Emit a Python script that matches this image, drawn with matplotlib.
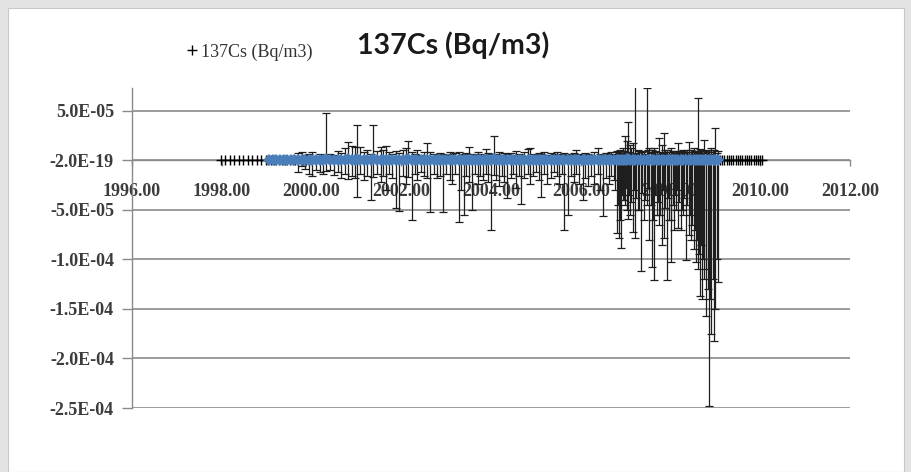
import numpy as np
import matplotlib.pyplot as plt
from matplotlib import font_manager
from matplotlib.patches import Rectangle

# pick a narrow bold sans for the title if one is around
_names = {f.name for f in font_manager.fontManager.ttflist}
TITLE_FONT = 'Liberation Sans Narrow' if 'Liberation Sans Narrow' in _names else 'Lato'
TICK_FONT = 'Liberation Serif'

# 137Cs series with error bars (values and errors in 1e-6 Bq/m3)
dates = [
    1999.05, 1999.14, 1999.22, 1999.30, 1999.38, 1999.46, 1999.54, 1999.62,
    1999.70, 1999.78, 1999.86, 1999.94, 2000.02, 2000.10, 2000.18, 2000.26,
    2000.33, 2000.42, 2000.50, 2000.58, 2000.66, 2000.74, 2000.82, 2000.90,
    2000.96, 2001.02, 2001.09, 2001.16, 2001.24, 2001.33, 2001.38, 2001.46,
    2001.54, 2001.60, 2001.65, 2001.72, 2001.80, 2001.88, 2001.96, 2002.04,
    2002.10, 2002.16, 2002.24, 2002.30, 2002.36, 2002.44, 2002.50, 2002.58,
    2002.65, 2002.72, 2002.80, 2002.86, 2002.92, 2003.00, 2003.08, 2003.14,
    2003.20, 2003.28, 2003.34, 2003.39, 2003.44, 2003.50, 2003.57, 2003.64,
    2003.70, 2003.76, 2003.82, 2003.88, 2003.94, 2003.99, 2004.06, 2004.12,
    2004.18, 2004.24, 2004.30, 2004.36, 2004.44, 2004.50, 2004.56, 2004.62,
    2004.67, 2004.74, 2004.82, 2004.88, 2004.94, 2005.00, 2005.06, 2005.11,
    2005.17, 2005.24, 2005.33, 2005.40, 2005.46, 2005.52, 2005.58, 2005.63,
    2005.71, 2005.78, 2005.84, 2005.89, 2005.96, 2006.04, 2006.10, 2006.16,
    2006.22, 2006.30, 2006.38, 2006.44, 2006.49, 2006.56, 2006.62, 2006.68,
    2006.74, 2006.80, 2006.85, 2006.89, 2006.94, 2006.98, 2007.02, 2007.05,
    2007.10, 2007.16, 2007.21, 2007.27, 2007.34, 2007.41, 2007.47, 2007.53,
    2007.58, 2007.63, 2007.69, 2007.74, 2007.80, 2007.85, 2007.92, 2007.97,
    2008.02, 2008.08, 2008.13, 2008.17, 2008.23, 2008.28, 2008.34, 2008.41,
    2008.46, 2008.52, 2008.56, 2008.61, 2008.66, 2008.70, 2008.75, 2008.80,
    2008.86, 2008.91, 2008.97, 2009.00, 2009.06,
]
cs_values = [
    0, 0, 0, 0, 0, 0, 0, 0,
    0, 0, 0, 0, 0, 0, 0, 0,
    1, 0, 0, 0, 0, 0, 1, 0,
    0, 1, 0, 0, 0, 0, 1, 0,
    0, 0, 0, 0, 0, 0, 0, 0,
    0, 1, 0, 0, 0, 0, 0, 0,
    0, 0, 0, 0, 0, 0, 0, 0,
    0, 0, 0, 0, 0, 0, 0, 0,
    0, 0, 0, 0, 0, 0, 1, 0,
    0, 0, 0, 0, 0, 0, 0, 0,
    0, 0, 0, 0, 0, 0, 0, 0,
    0, 0, 0, 0, 0, 0, 0, 0,
    0, 0, 0, 0, 0, 0, 0, 0,
    0, 0, 0, 0, 0, 0, 0, 0,
    0, 0, 0, 0, 0, 0, 0, 1,
    0, 0, 0, 0, 0, 0, 0, 0,
    0, 0, 0, 0, 0, 0, 0, 0,
    0, 0, 0, 0, 0, 0, 0, 0,
    0, 0, 0, 0, 0, 0, 0, 0,
    0, 0, 0, 0, 0,
]
err_plus = [
    0, 0, 0, 0, 0, 0, 0, 0,
    7, 8, 5, 6, 8, 4, 6, 5,
    47, 6, 5, 9, 7, 12, 17, 14,
    13, 35, 13, 8, 10, 6, 35, 9,
    13, 10, 14, 8, 6, 9, 7, 10,
    12, 18, 8, 6, 10, 5, 8, 17,
    8, 6, 5, 7, 6, 5, 8, 6,
    7, 8, 5, 6, 7, 13, 6, 5,
    8, 6, 5, 11, 7, 6, 24, 6,
    8, 5, 7, 6, 7, 5, 9, 6,
    5, 8, 11, 12, 6, 5, 7, 6,
    8, 5, 7, 6, 8, 5, 6, 7,
    5, 6, 7, 10, 6, 5, 7, 6,
    5, 8, 12, 6, 5, 7, 6, 8,
    5, 9, 7, 6, 12, 25, 20, 38,
    15, 17, 80, 10, 8, 9, 73, 12,
    10, 12, 8, 23, 15, 28, 10, 8,
    12, 9, 7, 17, 9, 10, 8, 18,
    10, 12, 9, 63, 11, 9, 21, 10,
    8, 12, 10, 33, 9,
]
err_minus = [
    0, 0, 0, 0, 0, 0, 0, 0,
    12, 6, 9, 14, 16, 10, 12, 14,
    12, 10, 15, 12, 18, 14, 20, 16,
    18, 38, 14, 20, 16, 40, 18, 14,
    22, 16, 30, 14, 18, 48, 51, 16,
    24, 18, 60, 14, 20, 12, 16, 18,
    52, 14, 18, 16, 52, 14, 20, 24,
    14, 62, 30, 55, 16, 22, 50, 14,
    24, 16, 20, 14, 22, 70, 16, 20,
    26, 16, 22, 38, 18, 14, 28, 16,
    44, 18, 14, 24, 16, 12, 20, 37,
    14, 24, 18, 12, 16, 24, 14, 70,
    55, 16, 22, 14, 24, 40, 18, 26,
    16, 24, 14, 30, 56, 18, 24, 16,
    20, 73, 78, 88, 40, 45, 50, 60,
    55, 72, 78, 50, 112, 60, 45, 80,
    108, 121, 55, 65, 85, 78, 121, 60,
    103, 70, 50, 68, 70, 55, 101, 75,
    80, 90, 103, 110, 137, 140, 120, 157,
    248, 175, 182, 150, 123,
]

# extra samples in the busy 2007-2009 stretch (same units)
dates_late = [
    2006.77, 2006.83, 2006.87, 2006.92, 2006.96, 2007.00, 2007.07, 2007.13,
    2007.19, 2007.24, 2007.30, 2007.37, 2007.44, 2007.50, 2007.56, 2007.61,
    2007.66, 2007.72, 2007.77, 2007.83, 2007.88, 2007.95, 2008.00, 2008.05,
    2008.11, 2008.15, 2008.20, 2008.26, 2008.31, 2008.37, 2008.44, 2008.49,
    2008.54, 2008.59, 2008.64, 2008.68, 2008.73, 2008.78, 2008.83, 2008.88,
    2008.94, 2009.03,
]
err_plus_late = [
    6, 8, 10, 7, 9, 6, 8, 12, 6, 7, 9, 8, 6, 10, 7, 8, 9, 6, 8, 7, 10,
    6, 8, 9, 7, 6, 8, 9, 7, 10, 6, 8, 9, 7, 8, 10, 7, 9, 8, 6, 10, 7,
]
err_minus_late = [
    30, 45, 60, 35, 40, 28, 35, 42, 30, 38, 50, 33, 40, 28, 45, 60, 35,
    42, 55, 30, 48, 38, 60, 45, 35, 30, 42, 50, 38, 45, 55, 65, 70, 80,
    95, 85, 100, 110, 130, 140, 120, 100,
]

# zero-valued samples before and after the error-bar period
plus_dates = [
    1997.98, 1998.08, 1998.18, 1998.28, 1998.38, 1998.48, 1998.58, 1998.68,
    1998.78, 1998.88, 1998.98, 1999.04, 1999.10, 1999.16, 1999.22, 1999.28,
    1999.34, 1999.40, 1999.46, 1999.52, 1999.58, 1999.64, 1999.70, 1999.76,
    1999.82, 1999.88, 1999.94,
    2009.10, 2009.15, 2009.20, 2009.25, 2009.30, 2009.35, 2009.40, 2009.45,
    2009.50, 2009.55, 2009.60, 2009.65, 2009.70, 2009.75, 2009.80, 2009.85,
    2009.90, 2009.95, 2010.00, 2010.05,
]
plus_values = [0.0] * len(plus_dates)

x_ticks = [1996, 1998, 2000, 2002, 2004, 2006, 2008, 2010, 2012]
x_labels = ['1996.00', '1998.00', '2000.00', '2002.00', '2004.00', '2006.00',
            '2008.00', '2010.00', '2012.00']
y_ticks = [-2.5e-4, -2.0e-4, -1.5e-4, -1.0e-4, -5.0e-5, 0.0, 5.0e-5]
y_labels = ['-2.5E-04', '-2.0E-04', '-1.5E-04', '-1.0E-04', '-5.0E-05',
            '-2.0E-19', '5.0E-05']

scale = 1e-6
x = np.array(dates + dates_late)
y = np.array(cs_values + [0] * len(dates_late)) * scale
yerr = np.vstack([np.array(err_minus + err_minus_late) * scale,
                  np.array(err_plus + err_plus_late) * scale])

fig = plt.figure(figsize=(9.12, 4.72), dpi=100, facecolor='#e3e3e3')
fig.patches.append(Rectangle((8 / 912, 0), 896 / 912, 464 / 472,
                             transform=fig.transFigure, facecolor='white',
                             edgecolor='#c8c8c8', linewidth=0.8, zorder=-5))

ax = fig.add_axes([132 / 912, 1 - 408 / 472, (850 - 132) / 912, (408 - 88) / 472])
ax.set_facecolor('none')

grid_c = '#8a8a8a'
ax.set_xlim(1996, 2012)
ax.set_ylim(-2.5e-4, 7.3e-5)
ax.set_yticks(y_ticks)
ax.set_yticklabels(y_labels)
ax.set_xticks(x_ticks)
ax.set_xticklabels(x_labels)
ax.yaxis.grid(True, color=grid_c, linewidth=1.2)
ax.set_axisbelow(True)

for s in ['top', 'right']:
    ax.spines[s].set_visible(False)
ax.spines['left'].set_color(grid_c)
ax.spines['left'].set_linewidth(1.0)
ax.spines['bottom'].set_position(('data', 0))
ax.spines['bottom'].set_color(grid_c)
ax.spines['bottom'].set_linewidth(1.0)

ax.tick_params(axis='y', direction='out', length=7, width=1.0, color=grid_c,
               pad=6)
ax.tick_params(axis='x', direction='out', length=4, width=1.0, color=grid_c,
               pad=12)
for lab in ax.get_xticklabels() + ax.get_yticklabels():
    lab.set_fontfamily(TICK_FONT)
    lab.set_fontsize(13)
    lab.set_fontweight('bold')
    lab.set_color('#3c3c3c')

# error bars first, markers on top
ax.errorbar(x, y, yerr=yerr, fmt='none', ecolor='#1e1e1e', elinewidth=0.9,
            capsize=3, capthick=0.9, zorder=3, clip_on=True)
ax.plot(plus_dates, plus_values, linestyle='none', marker='+', markersize=7,
        markeredgewidth=1.0, color='black', zorder=4, label='137Cs (Bq/m3)')
ax.plot(dates, y[:len(dates)], linestyle='none', marker='D', markersize=6.5,
        color='#4a7ebb', markeredgewidth=0, zorder=5)

fig.text(453 / 912, 1 - 45 / 472, '137Cs (Bq/m3)', ha='center', va='center',
         fontsize=20.5, fontweight='bold', fontfamily=TITLE_FONT, color='#1a1a1a')

leg = fig.legend(loc='center left', bbox_to_anchor=(178 / 912, 1 - 52 / 472),
                 frameon=False, handlelength=0.6, handletextpad=0.2,
                 borderpad=0, prop={'family': TICK_FONT, 'size': 13})
for t in leg.get_texts():
    t.set_color('#333333')

fig.savefig('out.png', dpi=100, facecolor=fig.get_facecolor())
